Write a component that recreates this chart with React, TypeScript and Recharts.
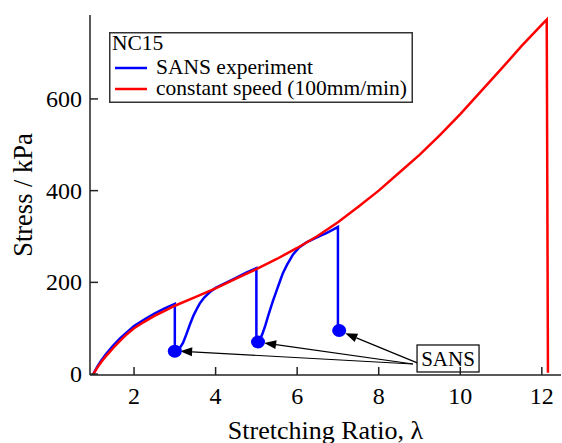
import React from 'react';
import {
  ComposedChart,
  Line,
  Scatter,
  XAxis,
  YAxis,
  ReferenceLine,
  ReferenceDot,
  Legend,
  Label,
} from 'recharts';

const FONT = '"Liberation Serif", "Times New Roman", serif';

const xTicks = [2, 4, 6, 8, 10, 12];
const yTicks = [0, 200, 400, 600];
const xDomain: [number, number] = [0.92, 12.47];
const yDomain: [number, number] = [-2, 783];

const sansLambda = [
  1.0, 1.05, 1.1, 1.2, 1.3, 1.4, 1.5, 1.65, 1.8, 2.0, 2.25, 2.5, 2.75, 3.0,
  3.0, 3.08, 3.13, 3.2, 3.28, 3.37, 3.46, 3.55, 3.62, 3.72, 3.86, 4.0, 4.25, 4.5, 4.75, 5.0,
  5.0, 5.08, 5.14, 5.22, 5.3, 5.4, 5.5, 5.58, 5.65, 5.75, 5.9, 6.05, 6.24, 6.38,
  6.55, 6.73, 6.88, 7.0, 7.0,
];
const sansStress = [
  0, 8, 16, 30, 42, 53, 63, 77, 89, 105, 119, 132, 143, 153,
  50, 53, 58, 68, 86, 108, 128, 144, 155, 167, 179, 188, 199, 210, 221, 231,
  70, 75, 86, 106, 130, 158, 183, 203, 220, 238, 261, 276, 288, 294,
  301, 308, 315, 321, 95,
];

const speedLambda = [
  1.0, 1.05, 1.1, 1.2, 1.3, 1.4, 1.5, 1.65, 1.8, 2.0, 2.25, 2.5, 2.75, 3.0,
  3.5, 4.0, 4.5, 5.0, 5.5, 6.0, 6.5, 7.0, 7.5, 8.0, 8.5, 9.0, 9.5, 10.0,
  10.5, 11.0, 11.5, 12.0, 12.12, 12.15,
];
const speedStress = [
  0, 7, 14, 27, 38, 48, 58, 72, 85, 100, 114, 127, 138, 149,
  168, 187, 208, 229, 251, 275, 301, 331, 365, 400, 439, 478, 521, 567,
  616, 665, 715, 762, 773, 3,
];

const markerLambda = [3.0, 5.04, 7.03];
const markerStress = [50, 70, 95];

const arrowStartLambda = [8.84, 8.84, 8.96];
const arrowStartStress = [22, 22, 24];
const arrowTipLambda = [3.13, 5.19, 7.18];
const arrowTipStress = [50, 68, 89];

const sansBoxLambda = 9.7;
const sansBoxStress = 34;

const legendTitle = 'NC15';
const legendItems = [
  { label: 'SANS experiment', color: '#0000ff' },
  { label: 'constant speed (100mm/min)', color: '#ff0000' },
];

const sansData = sansLambda.map((x, i) => ({ x, y: sansStress[i] }));
const speedData = speedLambda.map((x, i) => ({ x, y: speedStress[i] }));
const markerData = markerLambda.map((x, i) => ({ x, y: markerStress[i] }));

const AXIS = '#222';
const TICK_LEN = 8;

const BottomTick = (p: any) => (
  <g>
    <line x1={p.x} y1={p.y} x2={p.x} y2={p.y - TICK_LEN} stroke={AXIS} strokeWidth={1.5} />
    <text x={p.x} y={p.y + 29} textAnchor="middle" fontSize={24} fontFamily={FONT} fill="#000">
      {p.payload.value}
    </text>
  </g>
);
const TopTick = (p: any) => (
  <line x1={p.x} y1={p.y} x2={p.x} y2={p.y + TICK_LEN} stroke={AXIS} strokeWidth={1.5} />
);
const LeftTick = (p: any) => (
  <g>
    <line x1={p.x} y1={p.y} x2={p.x + TICK_LEN} y2={p.y} stroke={AXIS} strokeWidth={1.5} />
    <text x={p.x - 8} y={p.y + 8} textAnchor="end" fontSize={24} fontFamily={FONT} fill="#000">
      {p.payload.value}
    </text>
  </g>
);
const RightTick = (p: any) => (
  <line x1={p.x} y1={p.y} x2={p.x - TICK_LEN} y2={p.y} stroke={AXIS} strokeWidth={1.5} />
);

const Arrow = (p: any) => {
  const { x1, y1, x2, y2 } = p;
  const dx = x2 - x1;
  const dy = y2 - y1;
  const len = Math.hypot(dx, dy) || 1;
  const ux = dx / len;
  const uy = dy / len;
  const L = 12;
  const W = 4.5;
  const bx = x2 - ux * L;
  const by = y2 - uy * L;
  const pts = `${x2},${y2} ${bx - uy * W},${by + ux * W} ${bx + uy * W},${by - ux * W}`;
  return (
    <g>
      <line x1={x1} y1={y1} x2={bx} y2={by} stroke="#000" strokeWidth={1.2} />
      <polygon points={pts} fill="#000" />
    </g>
  );
};

const SansBox = (p: any) => (
  <g>
    <rect x={p.cx - 31} y={p.cy - 13.5} width={62} height={27} fill="#fff" stroke="#000" strokeWidth={1.2} />
    <text x={p.cx} y={p.cy + 7.5} textAnchor="middle" fontSize={21} fontFamily={FONT} fill="#000">
      SANS
    </text>
  </g>
);

const Dot = (p: any) => <ellipse cx={p.cx} cy={p.cy} rx={7} ry={6.5} fill="#0000ff" />;

const LegendBox = () => (
  <svg width={304} height={71} style={{ display: 'block' }}>
    <rect x={0.75} y={0.75} width={302.5} height={69.5} fill="#fff" stroke="#333" strokeWidth={1.5} />
    <text x={3} y={17.5} fontSize={21.5} fontFamily={FONT} fill="#000">
      {legendTitle}
    </text>
    {legendItems.map((it, i) => (
      <g key={it.label}>
        <line x1={6} x2={38} y1={36 + i * 21} y2={36 + i * 21} stroke={it.color} strokeWidth={2.5} />
        <text x={47} y={41.5 + i * 21} fontSize={21.5} fontFamily={FONT} fill="#000">
          {it.label}
        </text>
      </g>
    ))}
  </svg>
);

export default function App() {
  return (
    <div style={{ position: 'absolute', left: 0, top: 0, background: '#fff' }}>
      <ComposedChart
        width={562}
        height={443}
        margin={{ top: 15, right: 1, bottom: 0, left: 0 }}
      >
        <XAxis
          xAxisId="b"
          dataKey="x"
          type="number"
          orientation="bottom"
          domain={xDomain}
          ticks={xTicks}
          interval={0}
          allowDataOverflow
          height={68}
          tickSize={0}
          tickMargin={0}
          tickLine={false}
          axisLine={{ stroke: AXIS, strokeWidth: 1.5 }}
          tick={<BottomTick />}
        >
          <Label
            content={(lp: any) => {
              const vb = lp.viewBox || { x: 90, y: 375, width: 471 };
              return (
                <text
                  x={vb.x + vb.width / 2}
                  y={vb.y + 64}
                  textAnchor="middle"
                  fontSize={26}
                  fontFamily={FONT}
                  fill="#000"
                >
                  Stretching Ratio, λ
                </text>
              );
            }}
          />
        </XAxis>
        <XAxis
          xAxisId="t"
          dataKey="x"
          type="number"
          orientation="top"
          domain={xDomain}
          ticks={xTicks}
          interval={0}
          allowDataOverflow
          height={0}
          tickSize={0}
          tickMargin={0}
          tickLine={false}
          axisLine={{ stroke: AXIS, strokeWidth: 1.5 }}
          tick={<TopTick />}
        />
        <YAxis
          yAxisId="l"
          type="number"
          orientation="left"
          domain={yDomain}
          ticks={yTicks}
          interval={0}
          allowDataOverflow
          width={90}
          tickSize={0}
          tickMargin={0}
          tickLine={false}
          axisLine={{ stroke: AXIS, strokeWidth: 1.5 }}
          tick={<LeftTick />}
        >
          <Label
            content={(lp: any) => {
              const vb = lp.viewBox || { x: 0, y: 15, height: 360 };
              const cx = 32;
              const cy = vb.y + vb.height / 2;
              return (
                <text
                  x={cx}
                  y={cy}
                  transform={`rotate(-90 ${cx} ${cy})`}
                  textAnchor="middle"
                  fontSize={26.5}
                  fontFamily={FONT}
                  fill="#000"
                >
                  Stress / kPa
                </text>
              );
            }}
          />
        </YAxis>
        <YAxis
          yAxisId="r"
          type="number"
          orientation="right"
          domain={yDomain}
          ticks={yTicks}
          interval={0}
          allowDataOverflow
          width={0}
          tickSize={0}
          tickMargin={0}
          tickLine={false}
          axisLine={{ stroke: AXIS, strokeWidth: 1.5 }}
          tick={<RightTick />}
        />

        <Line
          xAxisId="b"
          yAxisId="l"
          data={sansData}
          dataKey="y"
          type="linear"
          stroke="#0000ff"
          strokeWidth={2.5}
          dot={false}
          activeDot={false}
          isAnimationActive={false}
        />
        <Line
          xAxisId="b"
          yAxisId="l"
          data={speedData}
          dataKey="y"
          type="linear"
          stroke="#ff0000"
          strokeWidth={2.5}
          dot={false}
          activeDot={false}
          isAnimationActive={false}
        />
        <Scatter
          xAxisId="b"
          yAxisId="l"
          data={markerData}
          dataKey="y"
          fill="#0000ff"
          shape={Dot}
          isAnimationActive={false}
        />
        {arrowTipLambda.map((tx, i) => (
          <ReferenceLine
            key={i}
            xAxisId="b"
            yAxisId="l"
            segment={[
              { x: arrowStartLambda[i], y: arrowStartStress[i] },
              { x: tx, y: arrowTipStress[i] },
            ]}
            ifOverflow="visible"
            shape={Arrow}
          />
        ))}
        <ReferenceDot
          xAxisId="b"
          yAxisId="l"
          x={sansBoxLambda}
          y={sansBoxStress}
          r={0}
          ifOverflow="visible"
          shape={SansBox}
        />
        <Legend
          layout="vertical"
          verticalAlign="middle"
          align="center"
          wrapperStyle={{ position: 'absolute', left: 109, top: 32, width: 304, height: 71 }}
          content={() => <LegendBox />}
        />
      </ComposedChart>
    </div>
  );
}
